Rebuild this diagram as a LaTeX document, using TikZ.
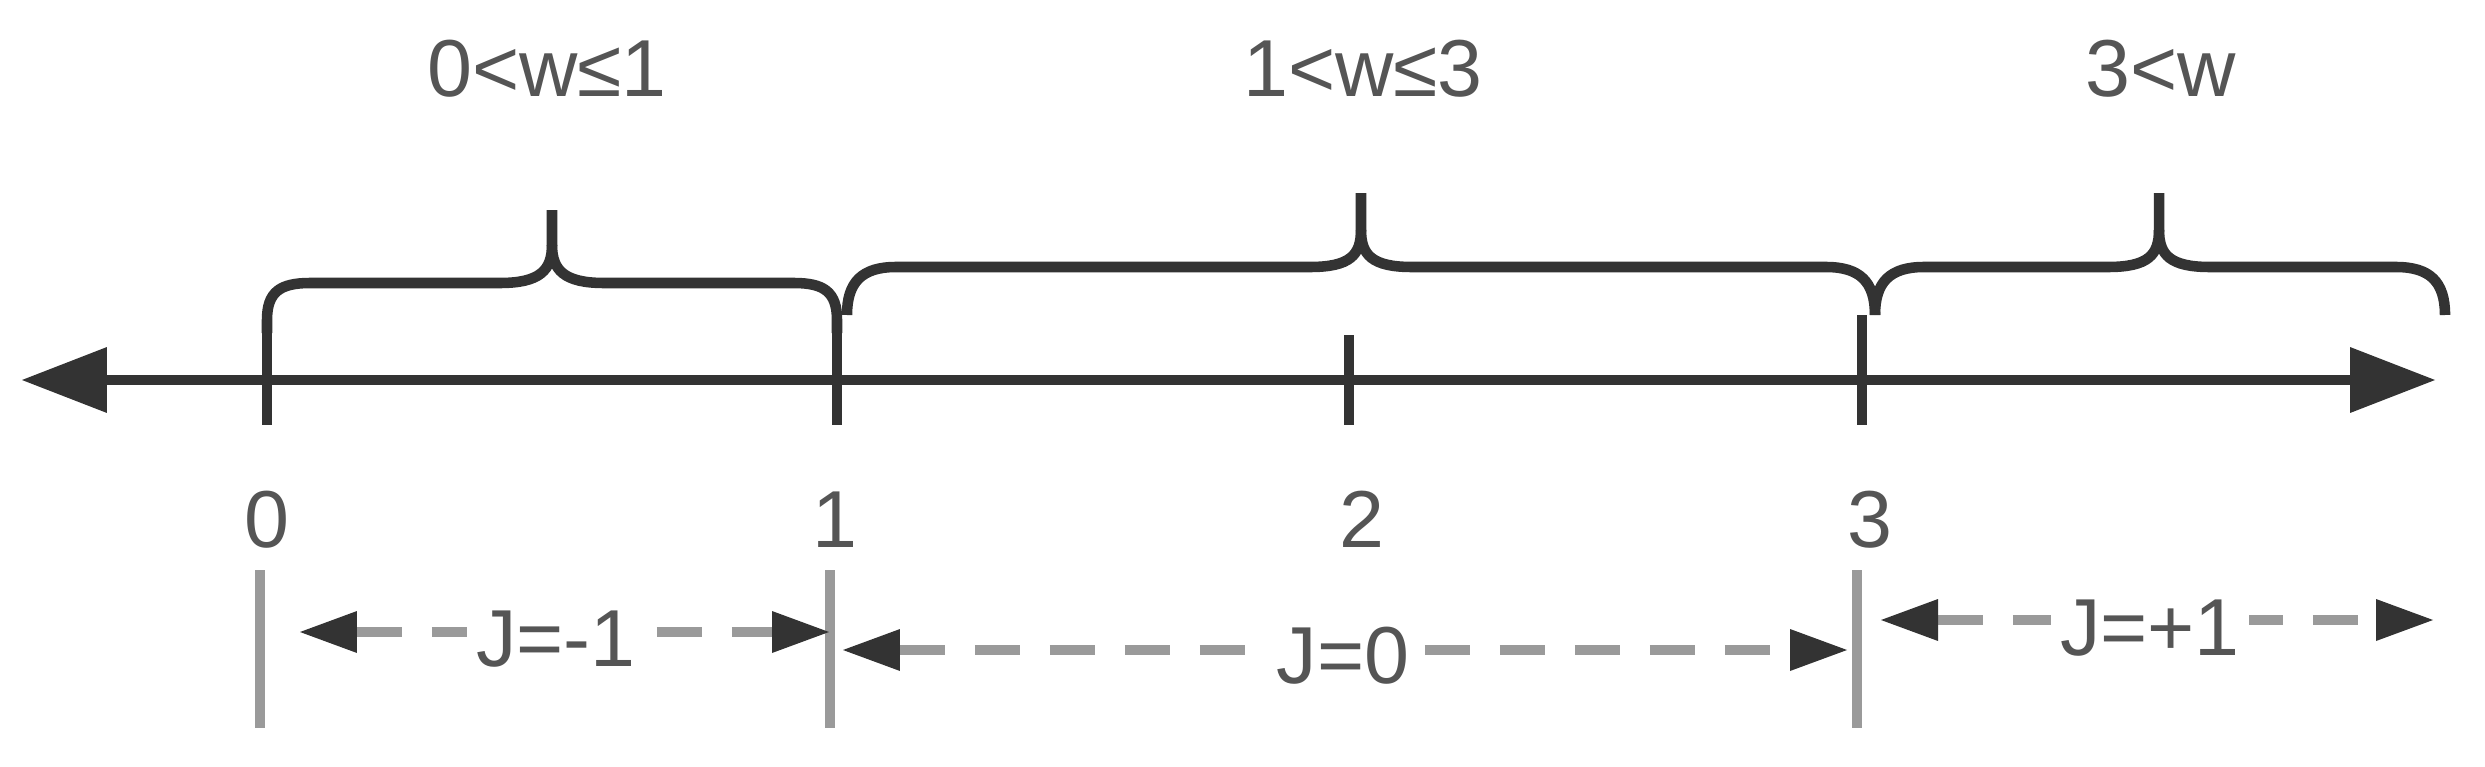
\documentclass[tikz,border=0pt]{standalone}
\usepackage{fontspec}
\setmainfont{Liberation Sans}
\usetikzlibrary{arrows.meta}
\definecolor{dk}{HTML}{333333}
\definecolor{gy}{HTML}{9A9A9A}
\definecolor{tx}{HTML}{555555}
\tikzset{
  bgt/.tip={Triangle[length=1.7cm,width=1.32cm,line width=0pt]},
  smt/.tip={Triangle[length=1.14cm,width=0.84cm,line width=0pt,color=dk]},
}
\begin{document}
\begin{tikzpicture}[x=0.02cm,y=-0.02cm,
  dark/.style={draw=dk,line width=6pt},
  gline/.style={draw=gy,line width=5.2pt},
  garrow/.style={draw=gy,line width=5.2pt,dash pattern=on 0.9cm off 0.6cm,smt-smt},
  lab/.style={text=tx,font=\fontsize{46}{50}\selectfont,inner sep=0pt,anchor=base},
  jlab/.style={text=tx,font=\fontsize{46}{50}\selectfont,inner sep=5pt,fill=white,anchor=base}]
\useasboundingbox (0,0) rectangle (2485,767);
% axis
\coordinate (AL) at (22,380);
\coordinate (AR) at (2435,380);
\draw[dark,bgt-bgt] (AL) -- (AR);
% ticks
\draw[dark] (267,330) -- (267,425);
\draw[dark] (837,330) -- (837,425);
\draw[dark] (1349,335) -- (1349,425);
\draw[dark] (1862,315) -- (1862,425);
% brace 1
\draw[dark] (267,333) -- (267,320) .. controls (267,292) and (280,283) .. (310,283) -- (500,283)
  .. controls (540,283) and (552,270) .. (552,245) -- (552,210);
\draw[dark] (552,245) .. controls (552,270) and (564,283) .. (604,283) -- (794,283)
  .. controls (824,283) and (837,292) .. (837,320) -- (837,333);
% brace 2
\draw[dark] (847,315) .. controls (847,282) and (862,267) .. (896,267) -- (1310,267)
  .. controls (1350,267) and (1361,255) .. (1361,230) -- (1361,193);
\draw[dark] (1361,230) .. controls (1361,255) and (1372,267) .. (1412,267) -- (1826,267)
  .. controls (1860,267) and (1875,282) .. (1875,315);
% brace 3
\draw[dark] (1875,315) .. controls (1875,282) and (1890,267) .. (1924,267) -- (2108,267)
  .. controls (2148,267) and (2159,255) .. (2159,230) -- (2159,193);
\draw[dark] (2159,230) .. controls (2159,255) and (2170,267) .. (2210,267) -- (2396,267)
  .. controls (2430,267) and (2445,282) .. (2445,315);
% top labels
\node[lab] (r1) at (547,97) {0<w≤1};
\node[lab] (r2) at (1363,97) {1<w≤3};
\node[lab] (r3) at (2161,97) {3<w};
% number labels
\node[lab] (n0) at (267,547) {0};
\node[lab] (n1) at (835,547) {1};
\node[lab] (n2) at (1362,547) {2};
\node[lab] (n3) at (1870,547) {3};
% gray verticals
\coordinate (g0t) at (260,570); \coordinate (g0b) at (260,728);
\coordinate (g1t) at (830,570); \coordinate (g1b) at (830,728);
\coordinate (g3t) at (1857,570); \coordinate (g3b) at (1857,728);
\draw[gline] (g0t) -- (g0b);
\draw[gline] (g1t) -- (g1b);
\draw[gline] (g3t) -- (g3b);
% dashed arrows
\coordinate (a1l) at (300,632); \coordinate (a1r) at (829,632);
\coordinate (a2l) at (843,650); \coordinate (a2r) at (1847,650);
\coordinate (a3l) at (1881,620); \coordinate (a3r) at (2433,620);
\draw[garrow] (a1l) -- (a1r);
\draw[garrow] (a2l) -- (a2r);
\draw[garrow] (a3l) -- (a3r);
\node[jlab] (j1) at (556,666) {J=-1};
\node[jlab] (j2) at (1343,683) {J=0};
\node[jlab] (j3) at (2150,655) {J=+1};
\end{tikzpicture}
\end{document}
